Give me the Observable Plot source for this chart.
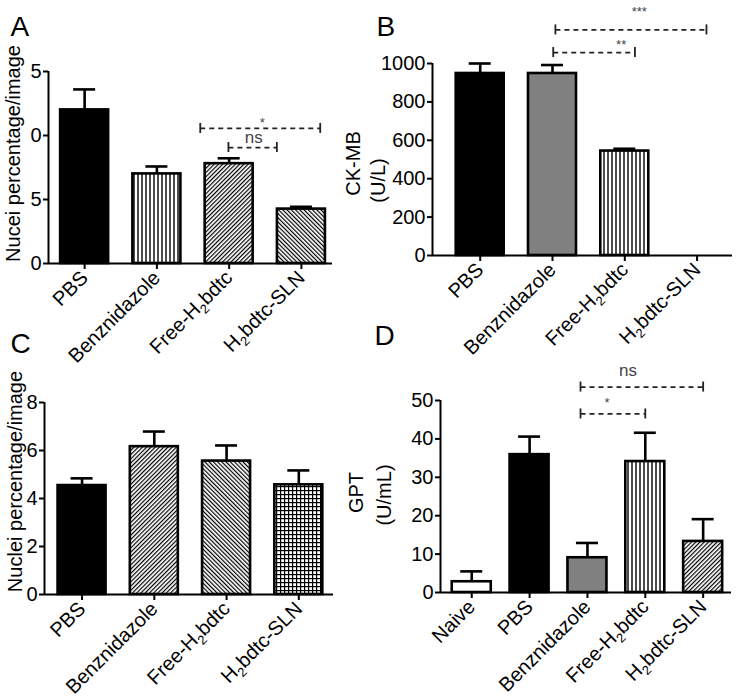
<!DOCTYPE html>
<html><head><meta charset="utf-8">
<script src="https://cdn.jsdelivr.net/npm/d3@7"></script>
<script src="https://cdn.jsdelivr.net/npm/@observablehq/plot@0.6"></script>
<style>
body{margin:0;background:#fff;}
#fig{position:relative;width:738px;height:700px;overflow:hidden;font-family:"Liberation Sans",Arial,sans-serif;}
#fig svg{position:absolute;}
</style></head><body>
<svg width="0" height="0" style="position:absolute">
<defs>
<pattern id="vlines" width="4" height="4" patternUnits="userSpaceOnUse"><rect width="4" height="4" fill="#fff"/><rect x="1.3" width="1.4" height="4" fill="#000"/></pattern>
<pattern id="diagUp" width="3" height="3" patternUnits="userSpaceOnUse" patternTransform="rotate(45)"><rect width="3" height="3" fill="#fff"/><rect width="1.2" height="3" fill="#000"/></pattern>
<pattern id="diagDown" width="3" height="3" patternUnits="userSpaceOnUse" patternTransform="rotate(-45)"><rect width="3" height="3" fill="#fff"/><rect width="1.2" height="3" fill="#000"/></pattern>
<pattern id="grid" width="4" height="4" patternUnits="userSpaceOnUse"><rect width="4" height="4" fill="#fff"/><rect width="1.2" height="4" fill="#000"/><rect width="4" height="1.2" fill="#000"/></pattern>
</defs></svg>
<div id="fig"></div>
<script>
// ---------- data ----------
const catsA = ["PBS", "Benznidazole", "Free-H₂bdtc", "H₂bdtc-SLN"];
const meanA = [12.0, 7.0, 7.8, 4.25];
const errA  = [1.6, 0.58, 0.42, 0.18];
const fillA = ["#000", "url(#vlines)", "url(#diagUp)", "url(#diagDown)"];
const ticksA = [0, 5, 10, 15];
const tickLabelsA = ["0", "5", "0", "5"];
const bracketsA = [
  {x1: 1.60, x2: 3.26, y: 10.55, label: "*", lx: 2.46, ly: 11.0},
  {x1: 1.99, x2: 2.66, y: 9.06, label: "ns", lx: 2.34, ly: 9.82}
];

const catsB = ["PBS", "Benznidazole", "Free-H₂bdtc", "H₂bdtc-SLN"];
const meanB = [948, 948, 544, 0];
const errB  = [52, 44, 12, 0];
const fillB = ["#000", "#808080", "url(#vlines)", "#fff"];
const ticksB = [0, 200, 400, 600, 800, 1000];
const bracketsB = [
  {x1: 1.04, x2: 3.13, y: 1175, label: "***", lx: 2.2, ly: 1270},
  {x1: 1.01, x2: 2.14, y: 1057, label: "**", lx: 1.95, ly: 1095}
];

const catsC = ["PBS", "Benznidazole", "Free-H₂bdtc", "H₂bdtc-SLN"];
const meanC = [4.54, 6.16, 5.56, 4.57];
const errC  = [0.30, 0.63, 0.65, 0.60];
const fillC = ["#000", "url(#diagUp)", "url(#diagDown)", "url(#grid)"];
const ticksC = [0, 2, 4, 6, 8];

const catsD = ["Naive", "PBS", "Benznidazole", "Free-H₂bdtc", "H₂bdtc-SLN"];
const meanD = [2.8, 35.9, 9.05, 34.1, 13.3];
const errD  = [2.7, 4.7, 3.85, 7.5, 5.8];
const fillD = ["#fff", "#000", "#808080", "url(#vlines)", "url(#diagUp)"];
const ticksD = [0, 10, 20, 30, 40, 50];
const bracketsD = [
  {x1: 1.88, x2: 4.0, y: 53.5, label: "ns", lx: 2.70, ly: 57.7},
  {x1: 1.88, x2: 3.0, y: 46.5, label: "*", lx: 2.34, ly: 49.5}
];

// ---------- drawing ----------
function subscript(svg) {
  svg.querySelectorAll("text").forEach(t => {
    if (!t.textContent.includes("₂") || t.querySelector("tspan")) return;
    const parts = t.textContent.split("₂");
    t.textContent = "";
    const ns = "http://www.w3.org/2000/svg";
    parts.forEach((s, k) => {
      if (k > 0) {
        const sub = document.createElementNS(ns, "tspan");
        sub.setAttribute("font-size", "13");
        sub.setAttribute("dy", "5");
        sub.textContent = "2";
        t.appendChild(sub);
      }
      const span = document.createElementNS(ns, "tspan");
      if (k > 0) span.setAttribute("dy", "-5");
      span.textContent = s;
      t.appendChild(span);
    });
  });
}

function panel(o) {
  const rows = o.cats.map((c, i) => ({i, mean: o.mean[i], err: o.err[i], fill: o.fill[i]}));
  const errRows = rows.filter(d => d.err > 0);
  const br = o.brackets || [];
  const marks = [
    Plot.rect(rows, {x1: "i", x2: "i", y1: 0, y2: "mean", fill: "fill", stroke: "#000", strokeWidth: 2.6,
      insetLeft: -o.bw / 2, insetRight: -o.bw / 2}),
    Plot.ruleX(errRows, {x: "i", y1: "mean", y2: d => d.mean + d.err, strokeWidth: 2.6}),
    Plot.ruleY(errRows, {y: d => d.mean + d.err, x1: "i", x2: "i", insetLeft: -11, insetRight: -11, strokeWidth: 2.6}),
    Plot.ruleY([0], {strokeWidth: 2}),
    Plot.ruleX([o.xdom[0]], {y1: 0, y2: o.yticks[o.yticks.length - 1], strokeWidth: 2}),
    Plot.axisX({ticks: d3.range(o.cats.length), tickFormat: i => o.cats[i], tickRotate: -45, tickSize: 6,
      tickPadding: 5, strokeWidth: 2, label: null, fontSize: 20}),
    Plot.axisY({ticks: o.yticks, tickFormat: o.yfmt, tickSize: 5, tickPadding: 2, strokeWidth: 2, label: null, fontSize: 20}),
    Plot.link(br, {x1: "x1", x2: "x2", y1: "y", y2: "y", stroke: "#222", strokeWidth: 1.7, strokeDasharray: "5,4"}),
    Plot.ruleX(br, {x: "x1", y1: "y", y2: "y", insetTop: -5, insetBottom: -5, stroke: "#222", strokeWidth: 1.8}),
    Plot.ruleX(br, {x: "x2", y1: "y", y2: "y", insetTop: -5, insetBottom: -5, stroke: "#222", strokeWidth: 1.8}),
    Plot.text(br, {x: "lx", y: "ly", text: "label", fill: "#444", fontSize: d => d.label === "ns" ? 17 : 13})
  ];
  o.ylabels.forEach(l => marks.push(Plot.text([l.t], {text: d => d, frameAnchor: "left", textAnchor: "middle",
    rotate: -90, dx: l.dx, dy: l.dy, fontSize: 20, fill: "#000"})));
  marks.push(Plot.text([o.letter], {text: d => d, frameAnchor: "top-left", textAnchor: "start", lineAnchor: "bottom",
    dx: o.ldx, dy: o.ldy, fontSize: 28, fill: "#000"}));
  const p = Plot.plot({
    width: o.w, height: o.h,
    marginLeft: o.mL, marginRight: o.mR, marginTop: o.mT, marginBottom: o.mB,
    x: {type: "linear", domain: o.xdom, axis: null},
    y: {domain: [0, o.yticks[o.yticks.length - 1]], axis: null},
    color: {type: "identity"},
    style: {background: "transparent", overflow: "visible", fontFamily: "'Liberation Sans', Arial, sans-serif", color: "#000"},
    marks
  });
  subscript(p);
  p.style.left = o.left + "px";
  p.style.top = o.top + "px";
  document.getElementById("fig").appendChild(p);
}

panel({letter: "A", left: 0, top: 0, w: 369, h: 340, mL: 48, mR: 37, mT: 71, mB: 77,
  xdom: [-0.5, 3.43], cats: catsA, mean: meanA, err: errA, fill: fillA, bw: 48,
  yticks: ticksA, yfmt: d => tickLabelsA[ticksA.indexOf(d)], brackets: bracketsA,
  ylabels: [{t: "Nucei percentage/image", dx: -34.5, dy: -14}], ldx: -38, ldy: -36});

panel({letter: "B", left: 330, top: 0, w: 408, h: 340, mL: 102, mR: 6, mT: 63, mB: 85,
  xdom: [-0.66, 3.49], cats: catsB, mean: meanB, err: errB, fill: fillB, bw: 48,
  yticks: ticksB, yfmt: d => String(d), brackets: bracketsB,
  ylabels: [{t: "CK-MB", dx: -79, dy: 4}, {t: "(U/L)", dx: -54, dy: 21}], ldx: -56, ldy: -28});

panel({letter: "C", left: 0, top: 330, w: 369, h: 370, mL: 44, mR: 36, mT: 72, mB: 106,
  xdom: [-0.52, 3.48], cats: catsC, mean: meanC, err: errC, fill: fillC, bw: 48,
  yticks: ticksC, yfmt: d => String(d), brackets: [],
  ylabels: [{t: "Nuclei percentage/image", dx: -29, dy: -17}], ldx: -34, ldy: -50});

panel({letter: "D", left: 330, top: 330, w: 408, h: 370, mL: 110, mR: 7, mT: 70, mB: 108,
  xdom: [-0.54, 4.49], cats: catsD, mean: meanD, err: errD, fill: fillD, bw: 39,
  yticks: ticksD, yfmt: d => String(d), brackets: bracketsD,
  ylabels: [{t: "GPT", dx: -83.5, dy: -4}, {t: "(U/mL)", dx: -55.5, dy: -1.5}], ldx: -66, ldy: -56});
</script>
</body></html>
